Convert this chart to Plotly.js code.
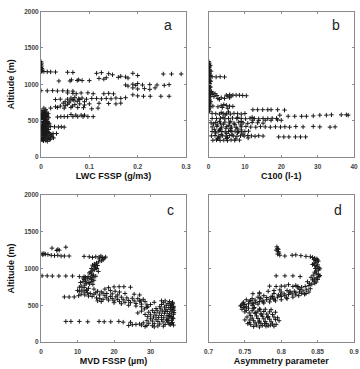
<!DOCTYPE html>
<html>
<head>
<meta charset="utf-8">
<script src="https://cdn.plot.ly/plotly-3.0.1.min.js"></script>
<style>
  html, body { margin: 0; padding: 0; background: #fff; }
  #chart { width: 360px; height: 369px; }
</style>
</head>
<body>
<div id="chart"></div>
<script>
// Panel a: liquid water content (FSSP) vs altitude
const lwcValues = [
  0,0.001,0,0.001,0,0.002,0,0.001,0.002,0,
  0.006,0.013,0.02,0.03,0.055,0.066,
  0.115,0.125,0.14,0.148,0.19,0.2,0.253,0.27,0.29,
  0.037,0.06,0.075,0.085,0.1,0.063,0.078,
  0.12,0.13,0.135,0.16,0.165,0.175,0.18,
  0.175,0.19,0.196,0.21,0.225,0.24,0.255,0.265,0.2,0.18,
  0.2,0.214,0.225,0.236,0.19,
  0,0.013,0.024,0.034,0.045,0.055,0.066,
  0.055,0.066,0.073,0.083,0.097,0.108,0.13,0.14,0.15,
  0.2,0.212,0.226,0.248,0.265,0.19,
  0.03,0.04,0.055,0.066,0.08,0.094,0.105,0.115,0.125,0.135,0.145,0.155,0.165,0.175,
  0.05,0.06,0.068,0.075,0.062,0.07,0.078,0.085,0.058,0.046,0.09,
  0.1,0.12,0.14,0.155,0.165,
  0.055,0.07,0.08,0.09,
  0.006,0.02,0.034,0.048,0.062,0.076,0.088,0.105,0.118,
  0.04,0.03,0.05,0.065,
  0.062,0.072,0.083,0.09,
  0.034,0.041,0.048,0.055,0.066,0.076,0.087,0.097,0.108,
  0.002,0.008,0.004,0.012,0.003,0.009,0.015,0.005,0.011,0.002,0.007,0.013,0.004,0.01,0.016,
  0.003,0.008,0.012,0.005,0.002,0.009,0.014,0.006,0.011,0.003,0.008,0.017,0.004,0.01,0.013,
  0.006,0.002,0.02,0.009,0.028,0.036,0.042,0.048,0.015,0.005,0.012,0.003,0.008,0.016,0.004,
  0.01,0.006,0.013,0.002,0.009,0.018,0.025,0.032,0.005,0.011,0.003,0.014,0.007,0.02,0.01,
  0.004,0.016,0.026,0.008,0.012,0.003,0.018,0.009,0.005,0.013,
  0.006,0.01,0.001,0.007,0.015,0.012,0.007,0.022,0.015,0.023,
  0.001,0.004,0.002,0.006,0.003,0.001,0.005,0.002,0.004,0.001,
  0.007,0.012,0.004,0.009,0.014,0.003,0.011,0.006,0.016,0.008,0.002,0.019,0.005,0.01
];
const lwcAltitude = [
  1310,1290,1270,1250,1230,1215,1200,1190,1180,1170,
  1175,1172,1170,1168,1165,1162,
  1150,1160,1145,1130,1150,1120,1141,1141,1141,
  1045,1045,1052,1052,1050,1060,1062,
  1080,1070,1090,1095,1110,1100,1085,
  990,1000,985,990,995,990,985,995,1010,975,
  935,940,930,950,950,
  912,910,912,908,910,908,905,
  880,875,870,880,882,870,870,875,868,
  840,835,835,835,835,855,
  790,795,795,790,790,795,805,805,800,805,800,810,805,815,
  760,770,780,765,810,820,800,810,745,740,760,
  730,738,735,730,740,
  725,720,730,715,
  672,672,680,672,680,680,678,662,672,
  700,690,705,700,
  585,575,575,575,
  550,555,555,555,555,555,555,555,555,
  640,630,620,615,605,600,595,585,580,570,565,560,550,545,540,
  530,525,518,510,500,495,490,482,475,470,462,458,450,445,438,
  430,425,420,418,414,412,415,410,410,405,398,390,382,378,370,
  362,355,348,340,332,325,322,322,318,310,302,298,290,285,278,
  270,265,262,255,248,240,238,230,222,215,
  600,560,520,440,470,350,320,305,255,275,
  580,540,500,460,420,380,340,300,260,240,
  610,575,535,505,455,435,395,365,335,292,268,245,228,650
];

// Panel b: C100 concentration vs altitude
const c100Values = [
  0.1,0.2,0.1,0.3,0.2,0.1,0.3,0.2,0.1,0.3,0.2,0.1,0.3,0.2,0.1,0.4,0.2,0.1,0.3,0.2,0.1,0.4,
  0.2,0.1,0.3,0.2,0.1,0.3,0.2,0.1,0.4,0.2,0.1,0.3,0.2,0.1,0.3,0.2,0.1,0.3,0.2,0.1,0.3,
  1,2.1,3.2,4.4,
  0.8,1.2,1.8,2.3,1,1.5,
  4.9,5.8,6.7,7.6,8.5,9.4,10.4,5.3,6.2,
  2.6,3.5,4.4,5.8,3,
  1.2,2.6,3.5,4.9,5.8,6.7,4.2,3.8,5.3,
  12.2,13.5,14.9,16.3,17.2,19,20.9,
  1,2,3,4,5,6,7,8,9,10,3.5,4.6,5.5,
  19.6,21.9,23.7,25.6,26.9,28.8,30.6,32.4,33.8,36.5,37.9,38.4,
  1,2.2,3.3,4.5,5.5,6.6,7.8,9,10.2,11.4,12.6,13.8,15,16.3,17.5,18.7,4,8,12,
  12.2,13.8,15.6,17.2,19,20,
  0.7,2,3.3,4.5,5.8,7,8.3,9.5,10.8,12,13.5,15,6,9,3,
  1,2.3,3.6,5,6.3,7.6,9,10.3,11.6,13,14.3,15.6,17,18.4,19.8,21,22.3,24,26,28.8,30.6,33.4,34.8,
  1,1.9,2.8,3.7,4.6,5.5,6.4,7.3,8.2,9.1,10,11,3,6,9,2,5,8,
  0.8,1.8,2.8,3.8,4.8,5.8,6.8,7.8,8.8,9.8,10.8,11.8,12.8,13.8,15,
  19.3,20.7,22.1,23.9,25.3,26.7,
  1.2,2.2,3.2,4.2,5.2,6.2,7.2,8.5,2.5,5,7.5,3.5,6.5,9.5,
  0.5,0.7,0.4,0.6,0.5,0.3,0.6,0.4,
  2.4,4.1,5.6,7.2,8.9,3.3,6.1,1.6,4.8,7.9,2.9,5.2,10.9,1.4
];
const c100Altitude = [
  1310,1290,1270,1250,1230,1210,1195,1180,1165,1150,1135,1120,1100,1085,1070,1055,1040,1025,1010,995,980,965,
  950,935,920,905,890,875,860,845,830,815,800,785,770,755,740,725,710,690,670,650,630,
  1104,1100,1104,1100,
  900,880,870,845,860,830,
  850,855,850,850,850,845,842,835,838,
  805,815,805,815,790,
  700,690,705,710,700,695,720,680,670,
  650,650,650,650,650,650,645,
  600,595,590,600,595,590,600,595,590,598,610,580,620,
  575,560,560,560,560,565,575,575,580,580,580,575,
  530,528,532,525,530,535,528,530,525,532,530,525,530,528,532,530,545,545,545,
  506,500,506,505,510,505,
  470,475,465,480,470,465,478,470,462,475,470,465,490,488,490,
  414,420,410,418,412,408,415,420,412,410,418,414,410,415,412,416,410,418,414,420,414,410,414,
  350,345,355,350,345,352,348,355,350,345,350,355,370,365,372,330,325,332,
  290,295,285,292,288,295,290,285,292,288,295,290,285,292,288,
  276,276,276,276,276,276,
  230,235,228,232,225,235,230,232,250,255,248,310,305,312,
  1260,1180,1120,1040,960,880,760,690,
  440,450,435,445,440,385,390,380,395,388,265,270,262,455
];

// Panel c: median volume diameter (FSSP) vs altitude
const mvdValues = [
  0.3,0.8,1.2,0.5,1.9,2.8,3.7,4.6,5.5,6.4,7.7,
  3,4.3,5,6.8,4.6,
  11.8,13.2,14.1,15,15.9,16.8,17.7,16.4,17.3,16,17,16.6,
  15.8,15.2,14.6,14.1,14.5,15,15.3,14.7,14.2,13.6,13.2,13.8,14.4,15,14.2,13.5,12.8,13.8,14.5,13.9,
  13.1,12.4,13.3,14.2,12,11,10.5,11.8,13,14.5,12.5,11.2,10,
  14.8,15.5,13.8,15.7,14,12.9,12.2,11.5,11.8,12.2,11.5,10.8,
  0.3,1.7,3.1,4.9,6.8,8.6,10.5,11.8,
  6.4,7.7,9.1,
  10.5,11.8,12.7,13.5,14.5,11,12,13,10.3,12.5,15.5,16.5,15,17,18,14,15.2,16.1,
  20,21.4,22.7,24.5,18.5,17.5,19,20.3,21.5,
  16,17.5,19,20.5,22,23.5,25,26.5,28,18,19.5,21,22.5,24,25.5,27,28.5,17,18.5,20,21.5,23,24.5,
  26,27.5,29,22,24,26,27.5,29,20,15.5,16.5,27,25.5,23,21,19.5,27.3,
  34,35.2,36,33.5,34.8,35.8,33,34.3,35.5,36.3,32.5,33.8,35,36.2,31.5,32.8,34.2,35.4,36.4,
  30.5,31.8,33.2,34.6,35.8,29.5,31,32.4,33.8,35.2,36.3,28.5,30,31.5,33,34.5,35.8,
  29.2,30.8,32.2,33.6,35,36.2,30,31.5,33,34.4,35.7,29,30.5,32,33.4,34.8,36,
  28,29.5,31,32.5,34,35.4,27,26,25,24,27.5,29,30.5,32,33.5,31,28.5,
  34.5,35,34,35.5,36.1,33,31,30,29.2,28.3,27.5,26.5,
  6.8,8.2,10.5,12.8,15.9,17.3,19.1,21.3,22.5,24.5,
  35.6,36.2,35.9,36.4,35.3,36,34.7,35.8,36.3,35.1
];
const mvdAltitude = [
  1200,1205,1195,1185,1190,1180,1175,1180,1170,1170,1170,
  1277,1245,1250,1290,1260,
  1165,1160,1150,1160,1155,1150,1155,1170,1140,1130,1120,1105,
  1090,1075,1060,1045,1030,1015,1000,985,970,955,940,925,910,895,880,870,860,850,840,825,
  810,800,790,785,775,760,745,740,730,720,710,705,700,
  1050,1040,1000,960,900,890,880,870,850,830,820,810,
  900,900,898,898,898,898,890,890,
  613,612,613,
  690,680,670,660,650,650,640,625,630,700,690,680,670,665,660,620,600,590,
  750,752,752,745,740,720,700,690,680,
  640,630,620,615,610,600,595,590,580,600,590,580,575,565,560,555,550,580,570,560,550,540,535,
  525,515,505,520,500,490,480,470,535,560,550,640,650,660,640,655,560,
  560,550,540,535,525,515,510,500,495,485,480,475,468,460,455,450,445,440,432,
  430,425,420,415,408,405,400,395,390,385,378,375,370,365,360,355,348,
  345,340,335,330,325,318,315,310,305,300,295,290,285,280,275,270,265,
  260,255,250,245,240,235,245,240,235,225,230,225,222,218,215,205,210,
  300,360,420,470,520,560,540,510,480,450,420,395,
  280,280,280,275,280,275,275,280,270,268,
  505,470,440,400,350,330,290,255,230,245
];

// Panel d: asymmetry parameter vs altitude
const asymValues = [
  0.794,0.795,0.793,0.796,0.797,0.795,0.798,0.796,
  0.805,0.815,0.82,0.827,0.834,
  0.84,0.843,0.846,0.849,0.85,0.851,0.848,0.845,0.843,0.846,0.849,0.852,0.853,0.851,0.848,
  0.846,0.848,0.851,0.853,0.852,0.849,0.846,0.843,0.845,0.848,0.846,0.842,0.838,0.833,0.828,0.823,
  0.845,0.847,0.844,0.85,0.839,0.836,0.841,0.85,0.847,
  0.793,0.805,0.816,0.826,
  0.784,0.793,0.8,0.805,0.816,0.823,0.81,0.82,
  0.745,0.75,0.755,0.76,0.765,0.77,0.775,0.78,0.785,0.79,0.795,0.8,0.805,0.81,0.815,0.82,0.825,0.83,0.835,0.84,
  0.748,0.756,0.764,0.772,0.78,0.788,0.796,0.804,0.812,0.8,0.79,0.776,0.768,0.76,0.752,0.744,0.752,
  0.76,0.768,0.776,0.784,0.792,0.8,0.808,0.816,0.824,0.832,0.838,0.828,0.818,0.808,0.798,0.79,0.782,0.77,
  0.761,0.77,
  0.748,0.755,0.762,0.77,0.778,0.786,0.752,0.76,0.768,0.776,0.784,0.792,0.756,0.764,0.772,0.78,0.788,
  0.758,0.766,0.774,0.782,0.79,0.76,0.768,0.776,0.784,0.792,0.762,0.77,0.778,0.786,0.756,0.764,0.772,
  0.78,0.788,0.758,0.766,0.774,0.782,0.79,0.762,0.77,0.754,0.75,0.753,0.75,0.746,0.795,0.797,0.793,
  0.765,0.773,0.781,0.757,0.769,0.777,0.785,0.763,0.771,0.779,
  0.747,0.758,0.771,0.786,0.799,0.812,0.826,0.75,0.762,0.775,0.79,0.807,0.82,0.834
];
const asymAltitude = [
  1295,1270,1250,1230,1210,1195,1180,1260,
  1170,1180,1185,1175,1165,
  1160,1150,1140,1130,1115,1100,1085,1070,1055,1040,1025,1010,995,980,965,
  950,935,920,905,890,875,860,845,830,815,800,785,770,755,745,735,
  1120,1000,910,850,800,820,880,1050,1110,
  900,900,900,890,
  760,755,760,760,755,755,780,770,
  500,510,520,530,540,550,560,575,585,595,610,620,630,645,655,670,680,695,710,725,
  540,555,570,590,605,620,640,655,670,680,660,630,610,590,575,490,480,
  500,515,530,545,560,575,590,610,630,650,680,660,690,700,710,700,690,670,
  657,657,
  470,460,455,450,445,440,430,425,420,415,410,405,395,390,385,380,375,
  360,355,350,345,340,325,320,315,310,305,290,285,280,275,265,260,255,
  250,245,235,230,225,220,215,210,205,250,300,340,410,445,330,290,240,
  400,370,335,300,270,250,230,470,440,215,
  520,565,600,615,640,690,715,465,520,545,575,600,640,660
];

// Axis tick label sets
const lwcTicks = [0, 0.1, 0.2, 0.3];
const c100Ticks = [0, 10, 20, 30, 40];
const mvdTicks = [0, 10, 20, 30];
const asymTicks = [0.7, 0.75, 0.8, 0.85, 0.9];
const altitudeTicks = [0, 500, 1000, 1500, 2000];
const panelLetters = ['a', 'b', 'c', 'd'];

const FONT = 'Liberation Sans, Arial, sans-serif';
const marker = {
  symbol: 'cross-thin-open',
  size: 3.2,
  color: '#1a1a1a',
  line: { color: '#1a1a1a', width: 1 }
};

function scatter(x, y, xa, ya) {
  return { type: 'scatter', mode: 'markers', x: x, y: y, xaxis: xa, yaxis: ya,
           marker: marker, hoverinfo: 'skip', showlegend: false };
}

const data = [
  scatter(lwcValues, lwcAltitude, 'x', 'y'),
  scatter(c100Values, c100Altitude, 'x2', 'y2'),
  scatter(mvdValues, mvdAltitude, 'x3', 'y3'),
  scatter(asymValues, asymAltitude, 'x4', 'y4')
];

const tickFont = { family: FONT, size: 6.5, weight: 700, color: '#444' };
const titleFont = { family: FONT, size: 9, weight: 700, color: '#111' };

function xAxis(domain, range, ticks, anchor, title) {
  return {
    domain: domain, range: range, anchor: anchor,
    tickmode: 'array', tickvals: ticks, ticktext: ticks.map(String),
    showline: true, linecolor: '#8a8a8a', linewidth: 1, mirror: 'ticks',
    ticks: 'inside', ticklen: 2, tickcolor: '#8a8a8a',
    showgrid: false, zeroline: false, tickfont: tickFont, ticklabelstandoff: 3,
    title: { text: title, font: titleFont, standoff: 3 }, automargin: false
  };
}
function yAxis(domain, anchor, labels, title) {
  return {
    domain: domain, range: [0, 2000], anchor: anchor,
    tickmode: 'array', tickvals: altitudeTicks, ticktext: altitudeTicks.map(String),
    showticklabels: labels,
    showline: true, linecolor: '#8a8a8a', linewidth: 1, mirror: 'ticks',
    ticks: 'inside', ticklen: 2, tickcolor: '#8a8a8a',
    showgrid: false, zeroline: false, tickfont: tickFont,
    title: { text: title, font: titleFont, standoff: 8 }, automargin: false
  };
}

const leftDom = [41 / 360, 186 / 360];
const rightDom = [208.5 / 360, 354 / 360];
const topDom = [1 - 157 / 369, 1 - 11.5 / 369];
const botDom = [1 - 342 / 369, 1 - 195 / 369];

const letterPos = [
  ['x', 'y', 0.876, 0.905],
  ['x2', 'y2', 0.874, 0.905],
  ['x3', 'y3', 0.89, 0.9],
  ['x4', 'y4', 0.89, 0.9]
];

const layout = {
  width: 360, height: 369,
  margin: { l: 0, r: 0, t: 0, b: 0 },
  paper_bgcolor: '#fff', plot_bgcolor: '#fff',
  showlegend: false,
  xaxis: xAxis(leftDom, [0, 0.3], lwcTicks, 'y', 'LWC FSSP (g/m3)'),
  yaxis: yAxis(topDom, 'x', true, 'Altitude (m)'),
  xaxis2: xAxis(rightDom, [0, 40], c100Ticks, 'y2', 'C100 (l-1)'),
  yaxis2: yAxis(topDom, 'x2', false, ''),
  xaxis3: xAxis(leftDom, [0, 39.7], mvdTicks, 'y3', 'MVD FSSP (µm)'),
  yaxis3: yAxis(botDom, 'x3', true, 'Altitude (m)'),
  xaxis4: xAxis(rightDom, [0.7, 0.9], asymTicks, 'y4', 'Asymmetry parameter'),
  yaxis4: yAxis(botDom, 'x4', false, ''),
  annotations: panelLetters.map((t, i) => ({
    text: t, showarrow: false,
    xref: letterPos[i][0] + ' domain', yref: letterPos[i][1] + ' domain',
    x: letterPos[i][2], y: letterPos[i][3],
    xanchor: 'center', yanchor: 'middle',
    font: { family: FONT, size: 14, color: '#222' }
  }))
};

Plotly.newPlot('chart', data, layout, { staticPlot: true, displayModeBar: false });
</script>
</body>
</html>
